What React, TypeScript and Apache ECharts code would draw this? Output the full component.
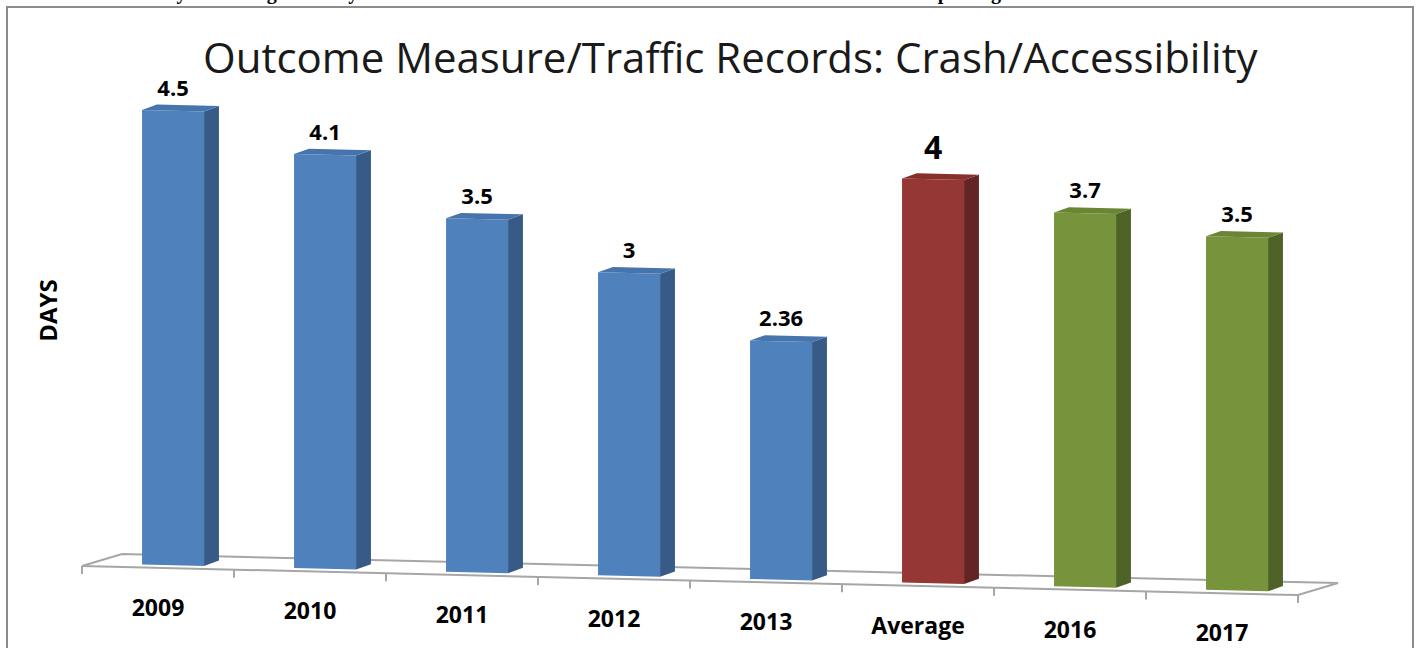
import React, { useEffect, useRef } from "react";
import * as echarts from "echarts";

const categories = ["2009", "2010", "2011", "2012", "2013", "Average", "2016", "2017"];
const values = [4.5, 4.1, 3.5, 3, 2.36, 4, 3.7, 3.5];
const groups = ["actual", "actual", "actual", "actual", "actual", "average", "target", "target"];
const titleText = "Outcome Measure/Traffic Records: Crash/Accessibility";
const axisTitle = "DAYS";
const topNote =
  "ower than the five year average of 4 days. The State will continue to work with the law enforcement crash reporting reducers.";

const palette: Record<string, { front: string; side: string; top: string }> = {
  actual: { front: "#4F81BD", side: "#375A86", top: "#4674AD" },
  average: { front: "#953735", side: "#632523", top: "#86302E" },
  target: { front: "#77933C", side: "#4F6228", top: "#6A8534" },
};

const SLOPE = 0.0239;
const FONT = "'Open Sans', 'Noto Sans', sans-serif";

export default function App() {
  const ref = useRef<HTMLDivElement>(null);
  useEffect(() => {
    if (!ref.current) return;
    const chart = echarts.init(ref.current, null, { renderer: "svg" });

    const floorRender = (params: any, api: any) => {
      const cs = params.coordSys;
      const band = api.size([1, 0])[0];
      const y0 = api.coord([0, 0])[1] + 3;
      const fl = [cs.x, y0];
      const fr = [cs.x + cs.width, y0 + SLOPE * cs.width];
      const br = [fr[0] + 40, fr[1] - 12];
      const bl = [fl[0] + 40, fl[1] - 12];
      const children: any[] = [
        {
          type: "polygon",
          shape: { points: [fl, fr, br, bl] },
          style: { fill: "rgba(255,255,255,0)", stroke: "#A6A6A6", lineWidth: 2 },
        },
      ];
      for (let k = 0; k <= categories.length; k++) {
        const x = cs.x + k * band;
        const y = y0 + SLOPE * (x - cs.x);
        children.push({
          type: "line",
          shape: { x1: x, y1: y, x2: x, y2: y + 8 },
          style: { stroke: "#A6A6A6", lineWidth: 2 },
        });
      }
      return { type: "group", children };
    };

    const barRender = (params: any, api: any) => {
      const cs = params.coordSys;
      const i = api.value(0);
      const v = api.value(1);
      const band = api.size([1, 0])[0];
      const c = api.coord([i, 0])[0];
      const y0 = api.coord([i, 0])[1];
      const yv = api.coord([i, v])[1];
      const s = (x: number) => SLOPE * (x - cs.x);
      const L = c - band * 0.105;
      const R = L + band * 0.408;
      const dx = band * 0.098;
      const dy = -band * 0.035;
      const col = palette[groups[i]];
      const isAvg = groups[i] === "average";
      const mid = (L + R) / 2;
      return {
        type: "group",
        children: [
          {
            type: "polygon",
            shape: {
              points: [
                [R, yv + s(R)],
                [R + dx, yv + s(R) + dy],
                [R + dx, y0 + s(R) + dy],
                [R, y0 + s(R)],
              ],
            },
            style: { fill: col.side },
          },
          {
            type: "polygon",
            shape: {
              points: [
                [L, yv + s(L)],
                [R, yv + s(R)],
                [R, y0 + s(R)],
                [L, y0 + s(L)],
              ],
            },
            style: { fill: col.front },
          },
          {
            type: "polygon",
            shape: {
              points: [
                [L, yv + s(L)],
                [L + dx, yv + s(L) + dy],
                [R + dx, yv + s(R) + dy],
                [R, yv + s(R)],
              ],
            },
            style: { fill: col.top },
          },
          {
            type: "text",
            x: mid,
            y: yv + s(mid) - (isAvg ? 33 : 24),
            style: {
              text: String(v),
              fill: "#000",
              font: `bold ${isAvg ? 32 : 22}px ${FONT}`,
              align: "center",
              verticalAlign: "middle",
            },
          },
          {
            type: "text",
            x: c,
            y: y0 + s(c) + 42,
            style: {
              text: categories[i],
              fill: "#000",
              font: `bold 23px ${FONT}`,
              align: "center",
              verticalAlign: "middle",
            },
          },
        ],
      };
    };

    chart.setOption({
      animation: false,
      backgroundColor: "#ffffff",
      title: {
        text: titleText,
        left: 198,
        top: 30,
        textStyle: { fontFamily: FONT, fontWeight: "normal", fontSize: 42, color: "#1a1a1a" },
      },
      grid: { left: 82, right: 118, top: 58, bottom: 85 },
      xAxis: {
        type: "category",
        data: categories,
        show: false,
      },
      yAxis: {
        type: "value",
        min: 0,
        max: 5,
        name: axisTitle,
        nameLocation: "middle",
        nameRotate: 90,
        nameGap: 23,
        nameTextStyle: { fontFamily: FONT, fontWeight: "bold", fontSize: 24, color: "#000" },
        axisLine: { show: false },
        axisTick: { show: false },
        axisLabel: { show: false },
        splitLine: { show: false },
      },
      graphic: [
        {
          type: "rect",
          shape: { x: 7, y: 7, width: 1406, height: 700 },
          style: { fill: "none", stroke: "#8C8C8C", lineWidth: 2 },
          silent: true,
        },
        {
          type: "text",
          x: 18,
          y: -18,
          style: {
            text: topNote,
            font: "bold 20px 'Liberation Serif', serif",
            fill: "#000",
            verticalAlign: "top",
          },
          silent: true,
        },
      ],
      series: [
        {
          type: "custom",
          renderItem: floorRender,
          data: [[0, 0]],
          silent: true,
          z: 1,
        },
        {
          type: "custom",
          renderItem: barRender,
          data: values.map((v, i) => [i, v]),
          z: 2,
        },
      ],
    });
    return () => chart.dispose();
  }, []);
  return (
    <div
      ref={ref}
      style={{ position: "fixed", left: 0, top: 0, width: 1416, height: 648 }}
    />
  );
}
